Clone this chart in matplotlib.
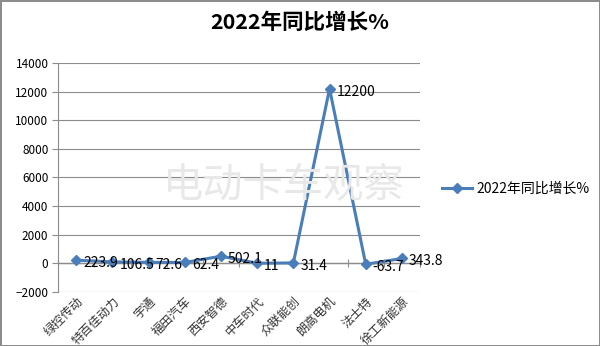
import matplotlib.pyplot as plt
import numpy as np

plt.rcParams['font.family'] = ['Noto Sans CJK SC', 'DejaVu Sans']

companies = ["绿控传动", "特百佳动力", "宇通", "福田汽车", "西安智德",
             "中车时代", "众联能创", "朗高电机", "法士特", "徐工新能源"]
growth = [223.9, 106.5, 72.6, 62.4, 502.1, 11, 31.4, 12200, -63.7, 343.8]
point_labels = ["223.9", "106.5", "72.6", "62.4", "502.1", "11", "31.4", "12200", "-63.7", "343.8"]
series_name = "2022年同比增长%"

fig = plt.figure(figsize=(6, 3.46), dpi=100)
fig.patch.set_edgecolor("#8c8c8c")
fig.patch.set_linewidth(2)
ax = fig.add_axes([0.097, 0.156, 0.603, 0.662])

x = np.arange(len(companies))
line, = ax.plot(x, growth, color="#4A7EBB", lw=2.2, marker="D", ms=5.5,
                label=series_name, zorder=3)
for xi, yi, lab in zip(x, growth, point_labels):
    ax.annotate(lab, (xi, yi), xytext=(5, -2), textcoords="offset points",
                ha="left", va="center", fontsize=10, zorder=4)

ax.set_xlim(-0.5, len(companies) - 0.5)
ax.set_ylim(-2000, 14000)
ax.set_yticks(np.arange(-2000, 14001, 2000))
ax.tick_params(axis="y", labelsize=8.5, length=4, color="#8c8c8c", pad=3)
ax.grid(axis="y", color="#8c8c8c", lw=0.8)
ax.set_axisbelow(True)
for s in ["top", "right", "bottom"]:
    ax.spines[s].set_visible(False)
ax.spines["left"].set_color("#8c8c8c")
ax.axhline(0, color="#8c8c8c", lw=1, zorder=2)

ax.set_xticks(x)
ax.set_xticklabels(companies, rotation=45, ha="right", rotation_mode="anchor",
                   fontsize=8.8, color="#333333")
ax.tick_params(axis="x", length=0, pad=2)

# category boundary ticks on the zero line
zero_pos = (0 - (-2000)) / 16000
sec = ax.secondary_xaxis(zero_pos)
sec.set_xticks(np.arange(-0.5, len(companies), 1))
sec.tick_params(direction="inout", length=6, color="#8c8c8c", labelbottom=False,
                labeltop=False, bottom=True, top=False)
sec.set_xticklabels([])
sec.spines["bottom"].set_visible(False)
sec.spines["top"].set_visible(False)

fig.text(0.5, 0.935, series_name, ha="center", va="center", fontsize=15.5,
         fontweight="bold")
fig.text(0.472, 0.465, "电动卡车观察", ha="center", va="center", fontsize=29,
         color="#e8e8e8", zorder=0)

fig.legend(handles=[line], loc="center left", bbox_to_anchor=(0.715, 0.455),
           frameon=False, fontsize=10, handlelength=2.2, handletextpad=0.3)

fig.savefig("out.png", dpi=100)
